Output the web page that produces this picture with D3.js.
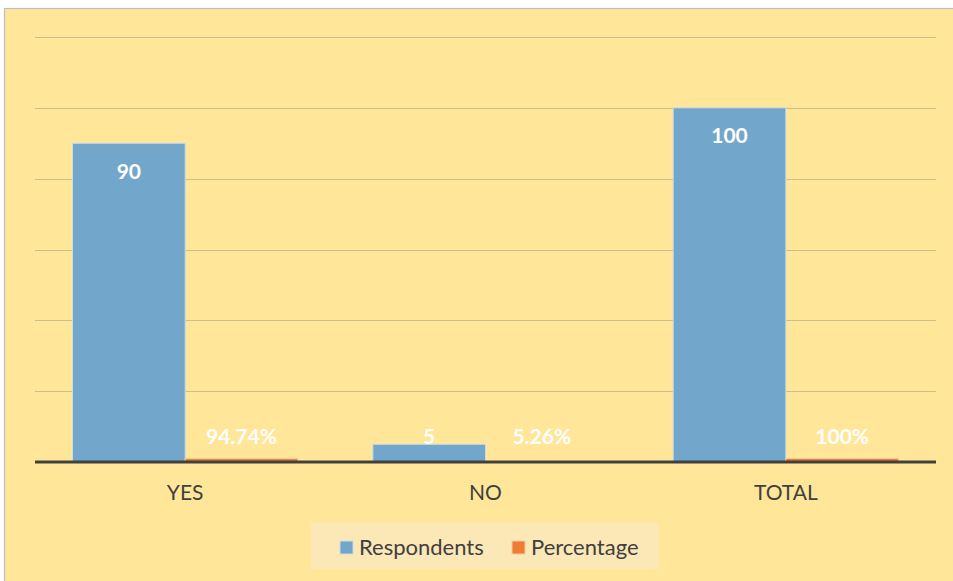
<!DOCTYPE html>
<html>
<head>
<meta charset="utf-8">
<script src="https://cdn.jsdelivr.net/npm/d3@7"></script>
<style>
  html, body { margin: 0; padding: 0; background: #ffffff; }
  svg { display: block; }
</style>
</head>
<body>
<svg id="chart" width="953" height="581"></svg>
<script>
// Survey answers: number of respondents and share of respondents
const categories = ["YES", "NO", "TOTAL"];
const respondents = [90, 5, 100];
const percentage = [0.9474, 0.0526, 1.00];
const seriesNames = ["Respondents", "Percentage"];
const yTicks = [0, 20, 40, 60, 80, 100, 120];

const W = 953, H = 581;
const plot = { left: 35, right: 936, top: 37, bottom: 462 };
const colors = { Respondents: "#73a6cb", Percentage: "#ed7d31" };
const font = "Lato, 'Open Sans', sans-serif";

const svg = d3.select("#chart");

// chart frame
svg.append("rect")
  .attr("x", 4.5).attr("y", 8.5)
  .attr("width", 970).attr("height", 600)
  .attr("fill", "#ffe699")
  .attr("stroke", "#bfbfbf").attr("stroke-width", 1.2);

const x0 = d3.scaleBand()
  .domain(categories)
  .range([plot.left, plot.right])
  .paddingInner(0.25).paddingOuter(0.125);

const x1 = d3.scaleBand()
  .domain(seriesNames)
  .range([0, x0.bandwidth()]);

const y = d3.scaleLinear()
  .domain([0, 120])
  .range([plot.bottom, plot.top]);

// horizontal gridlines
svg.append("g")
  .selectAll("line")
  .data(yTicks.filter(t => t > 0))
  .join("line")
  .attr("x1", plot.left).attr("x2", plot.right)
  .attr("y1", d => Math.round(y(d)) + 0.5)
  .attr("y2", d => Math.round(y(d)) + 0.5)
  .attr("stroke", "#cdbd8a").attr("stroke-width", 1);

const rows = categories.map((c, i) => ({
  category: c,
  values: [
    { series: "Respondents", value: respondents[i], label: String(respondents[i]) },
    { series: "Percentage", value: percentage[i], label: d3.format(".2~%")(percentage[i]) }
  ]
}));

const groups = svg.append("g")
  .selectAll("g")
  .data(rows)
  .join("g")
  .attr("transform", d => `translate(${x0(d.category)},0)`);

groups.selectAll("rect")
  .data(d => d.values)
  .join("rect")
  .attr("x", d => x1(d.series))
  .attr("y", d => y(d.value))
  .attr("width", x1.bandwidth())
  .attr("height", d => y(0) - y(d.value))
  .attr("fill", d => colors[d.series])
  .attr("stroke", d => d.series === "Respondents" ? "#c9dbe6" : "#f6c9a6")
  .attr("stroke-width", 1);

// value labels, inside end of the bar or just above the axis for short bars
groups.selectAll("text")
  .data(d => d.values)
  .join("text")
  .attr("x", d => x1(d.series) + x1.bandwidth() / 2)
  .attr("y", d => Math.min(y(d.value) + 28, y(0) - 25))
  .attr("dy", "0.35em")
  .attr("text-anchor", "middle")
  .attr("fill", "#ffffff")
  .attr("font-family", font)
  .attr("font-weight", "bold")
  .attr("font-size", 21)
  .text(d => d.label);

// category axis
const xAxis = svg.append("g")
  .attr("transform", `translate(0,${plot.bottom})`)
  .call(d3.axisBottom(x0).tickSize(0).tickPadding(0));
xAxis.select(".domain").remove();
xAxis.append("line")
  .attr("x1", plot.left).attr("x2", plot.right)
  .attr("y1", 0).attr("y2", 0)
  .attr("stroke", "#404040").attr("stroke-width", 3);
xAxis.selectAll(".tick text")
  .attr("y", 31)
  .attr("dy", "0.35em")
  .attr("fill", "#404040")
  .attr("font-family", font)
  .attr("font-size", 21);

// legend
const legend = svg.append("g");
legend.append("rect")
  .attr("x", 311).attr("y", 523)
  .attr("width", 348).attr("height", 46)
  .attr("fill", "#fbe8b6");
const legendX = [340, 512];
const items = legend.selectAll("g")
  .data(seriesNames)
  .join("g")
  .attr("transform", (d, i) => `translate(${legendX[i]},547)`);
items.append("rect")
  .attr("x", 0).attr("y", -6)
  .attr("width", 13).attr("height", 13)
  .attr("fill", d => colors[d])
  .attr("stroke", d => d === "Respondents" ? "#c9dbe6" : "#f6c9a6");
items.append("text")
  .attr("x", 19).attr("y", 0)
  .attr("dy", "0.35em")
  .attr("fill", "#404040")
  .attr("font-family", font)
  .attr("font-size", 22)
  .text(d => d);
</script>
</body>
</html>
